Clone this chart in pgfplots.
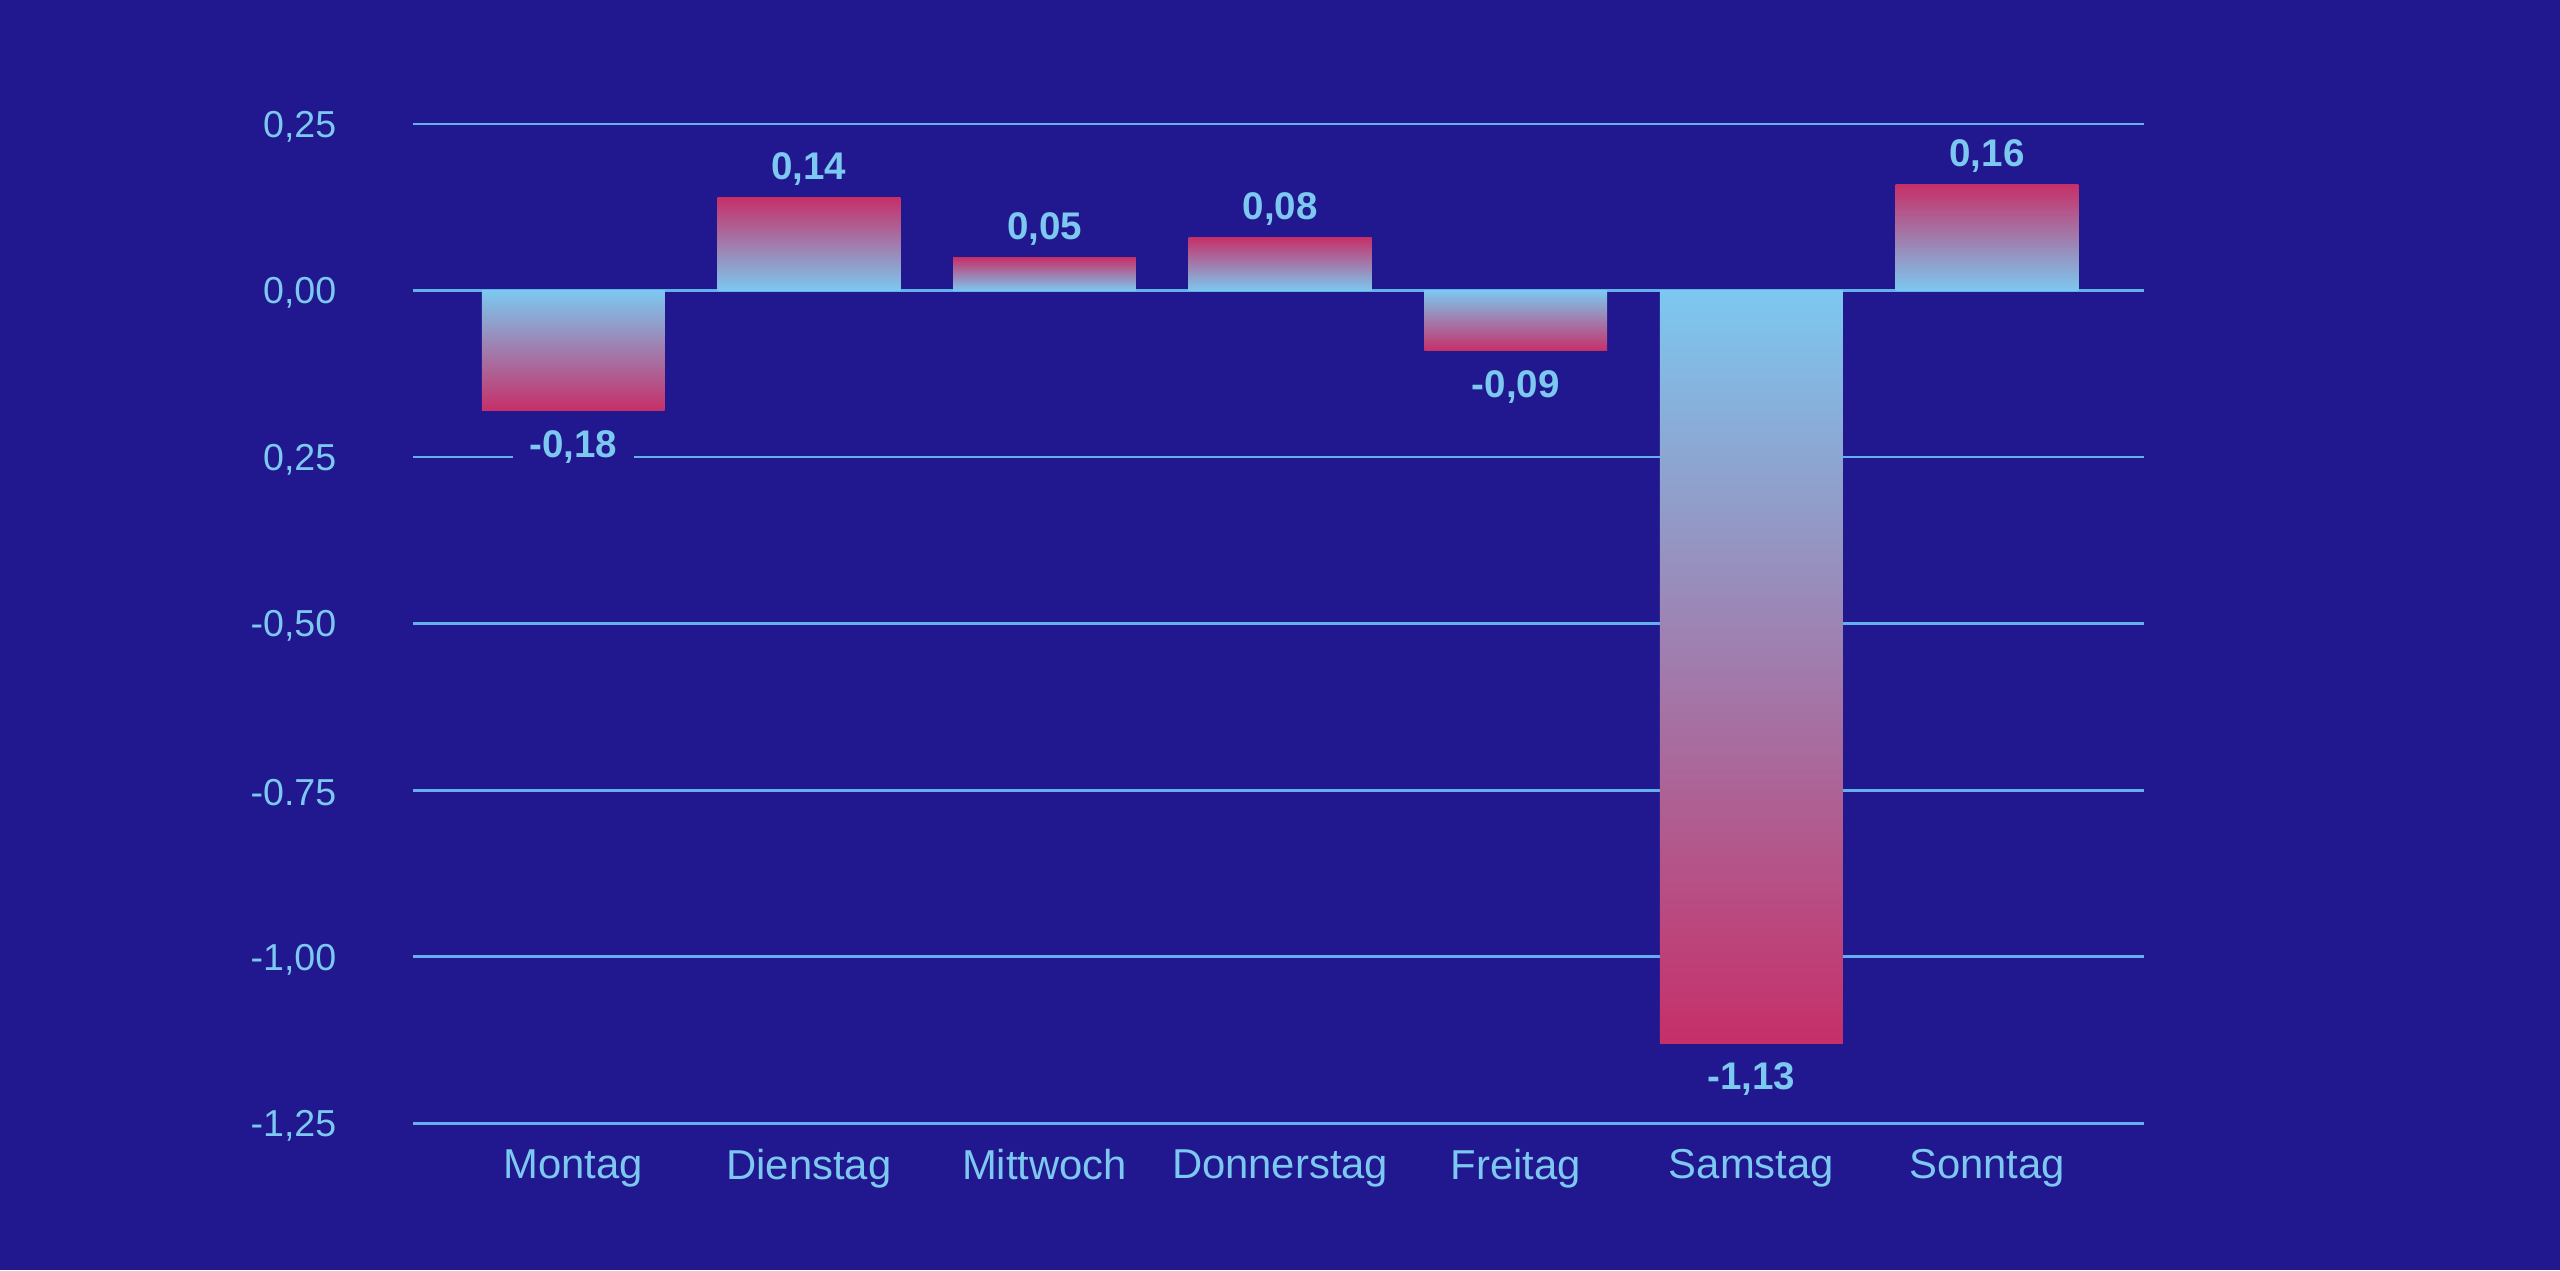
\documentclass[border=0pt]{standalone}
\usepackage{fontspec}
\setmainfont{Liberation Sans}
\usepackage{pgfplots}
\pgfplotsset{compat=1.18}
\definecolor{bg}{HTML}{21178F}
\definecolor{lb}{HTML}{7CC8F0}
\definecolor{gridc}{HTML}{64B0EC}
\definecolor{rd}{HTML}{C62F68}
\definecolor{md}{HTML}{A99CBF}
\pgfplotsset{
  pos/.style={draw=none, top color=rd, middle color=md, bottom color=lb,
    nodes near coords style={anchor=south}},
  neg/.style={draw=none, top color=lb, middle color=md, bottom color=rd,
    nodes near coords style={anchor=north, yshift=-2.5pt}},
}
\begin{document}
\begin{tikzpicture}
\fill[bg] (0,0) rectangle (784pt,389pt);
\begin{axis}[
  at={(126.5pt,45pt)}, anchor=south west,
  scale only axis, width=530pt, height=306pt,
  xmin=-0.68, xmax=6.665, ymin=-1.25, ymax=0.25,
  ytick={-1.25,-1,-0.75,-0.5,-0.25,0,0.25},
  yticklabels={{-1,25},{-1,00},{-0.75},{-0,50},{0,25},{0,00},{0,25}},
  xtick={0,1,2,3,4,5,6},
  xticklabels={Montag,Dienstag,Mittwoch,Donnerstag,Freitag,Samstag,Sonntag},
  axis line style={draw=none},
  major tick length=0pt,
  ymajorgrids, grid style={gridc, line width=0.8pt},
  xticklabel style={font=\fontsize{12.8}{14}\selectfont, text=lb, yshift=-4.5pt},
  yticklabel style={font=\fontsize{11.5}{14}\selectfont, text=lb, xshift=-20pt, yshift=-0.8pt},
  ybar, bar width=56pt, bar shift=0pt,
  point meta=explicit symbolic,
  nodes near coords,
  every node near coord/.append style={font=\bfseries\fontsize{11.8}{13}\selectfont, text=lb, fill=bg, inner xsep=5pt},
]
\addplot[neg] coordinates {(0,-0.18) [-0,18]};
\addplot[pos] coordinates {(1,0.14) [0,14]};
\addplot[pos] coordinates {(2,0.05) [0,05]};
\addplot[pos] coordinates {(3,0.08) [0,08]};
\addplot[neg] coordinates {(4,-0.09) [-0,09]};
\addplot[neg] coordinates {(5,-1.13) [-1,13]};
\addplot[pos] coordinates {(6,0.16) [0,16]};
\end{axis}
\end{tikzpicture}
\end{document}
